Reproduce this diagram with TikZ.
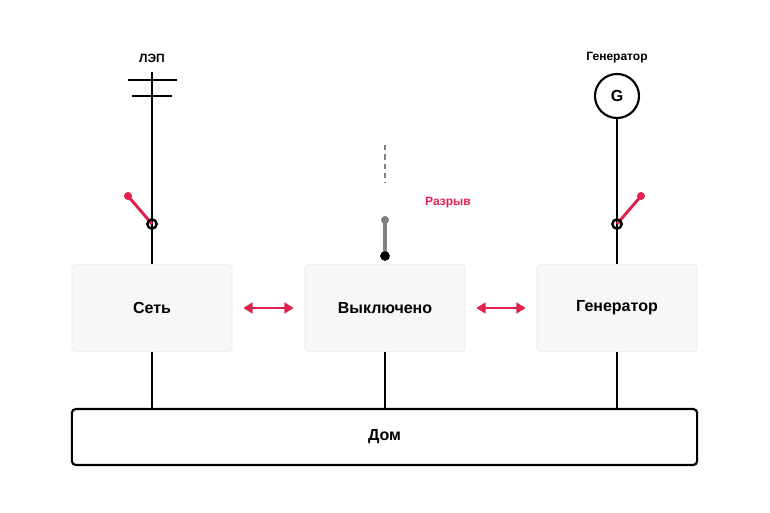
\documentclass[tikz,border=0pt]{standalone}
\usepackage{fontspec}
\setmainfont{Liberation Sans}
\usetikzlibrary{arrows.meta,calc}
\definecolor{accent}{HTML}{E0204F}
\definecolor{boxfill}{HTML}{F7F7F7}
\definecolor{boxline}{HTML}{E6E6E6}
\tikzset{
  mode/.style={draw=boxline, fill=boxfill, rounded corners=2pt, minimum width=120pt, minimum height=65pt, font=\bfseries\large},
  wire/.style={line width=1.6pt},
  pivot/.style={circle, draw=black, fill=black, line width=1pt, inner sep=0pt, minimum size=6pt},
  tip/.style={circle, fill=#1, inner sep=0pt, minimum size=6pt},
  swap/.style={{Triangle[length=7pt,width=8pt]}-{Triangle[length=7pt,width=8pt]}, accent, line width=1.8pt}
}
\begin{document}
\begin{tikzpicture}[x=0.75pt, y=-0.75pt]
\useasboundingbox (0,0) rectangle (770,513);

% mode boxes
\node [mode] (grid) at (152,308) {Сеть};
\node [mode] (off) at (385,308) {Выключено};
\node [mode] (gen) at (617,308) {Генератор};
\node [draw, line width=1.6pt, rounded corners=3pt, minimum width=469pt, minimum height=42pt, font=\bfseries\large] (home) at (384.5,437) {Дом};

\coordinate (a1) at ($(grid.east)+(11,0)$);
\coordinate (a2) at ($(off.west)+(-11,0)$);
\coordinate (b1) at ($(off.east)+(11,0)$);
\coordinate (b2) at ($(gen.west)+(-11,0)$);
\draw [swap] (a1) -- (a2);
\draw [swap] (b1) -- (b2);

% power line
\node [font=\bfseries\small] (lep) at (152,58) {ЛЭП};
\coordinate (lepTop) at (152,72);
\draw [wire] (lepTop) -- (grid.north);
\draw [wire] (128,80) -- (177,80);
\draw [wire] (132,96) -- (172,96);
\node [tip=accent] (s1) at (128,196) {};
\draw [accent, line width=2.2pt] (s1.center) -- (152,224);
\node [pivot, fill=none, line width=1.8pt, minimum size=7pt] (p1) at (152,224) {};

% break
\draw [gray, line width=1.6pt, dash pattern=on 4pt off 3pt] (385,145) coordinate (d1) -- (385,183) coordinate (d2);
\node [tip=gray] (s2) at (385,220) {};
\node [pivot] (p2) at (385,256) {};
\draw [gray, line width=2.4pt] (s2.center) -- (p2.center);
\node [pivot] at (p2) {};
\node [accent, font=\bfseries\small] (gap) at (448,203) {Разрыв};

% generator
\node [font=\bfseries\small] (genlbl) at (617,58) {Генератор};
\node [circle, draw, line width=1.6pt, minimum size=33pt, font=\bfseries\large] (G) at (617,96) {G};
\draw [wire] (G.south) -- (gen.north);
\node [tip=accent] (s3) at (641,196) {};
\draw [accent, line width=2.2pt] (s3.center) -- (617,224);
\node [pivot, fill=none, line width=1.8pt, minimum size=7pt] (p3) at (617,224) {};

% feeds
\draw [wire] (grid.south) -- (grid.south |- home.north);
\draw [wire] (off.south) -- (off.south |- home.north);
\draw [wire] (gen.south) -- (gen.south |- home.north);
\end{tikzpicture}
\end{document}
